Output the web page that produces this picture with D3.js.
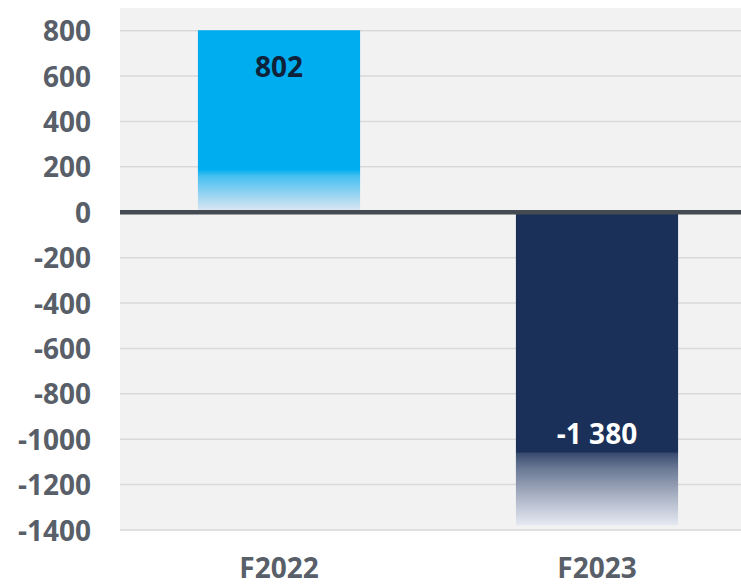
<!DOCTYPE html>
<html>
<head>
<meta charset="utf-8">
<script src="https://cdn.jsdelivr.net/npm/d3@7"></script>
<style>
  body { margin: 0; background: #fff; }
  text { font-family: "Open Sans", "DejaVu Sans", sans-serif; font-weight: 700; }
</style>
</head>
<body>
<svg id="chart" width="741" height="586"></svg>
<script>
// chart values
const categories = ["F2022", "F2023"];
const values = [802, -1380];
const yTicks = [800, 600, 400, 200, 0, -200, -400, -600, -800, -1000, -1200, -1400];
const barColors = ["#00adef", "#1b3059"];
const fadeColors = ["#e2e8f2", "#e6eaf2"];
const labelColors = ["#0e2239", "#ffffff"];

const svg = d3.select("#chart");
const plot = { left: 120, right: 756, top: 8, bottom: 531 };

const y = d3.scaleLinear()
    .domain([-1400, 900])
    .range([530, 8]);

const x = d3.scaleBand()
    .domain(categories)
    .range([plot.left, plot.right])
    .paddingInner(0.49)
    .paddingOuter(0.245);

// plot background
svg.append("rect")
    .attr("x", plot.left)
    .attr("y", plot.top)
    .attr("width", plot.right - plot.left)
    .attr("height", plot.bottom - plot.top)
    .attr("fill", "#f2f2f2");

// gridlines
svg.append("g")
    .selectAll("line")
    .data(yTicks.filter(d => d !== 0))
    .join("line")
    .attr("x1", plot.left)
    .attr("x2", plot.right)
    .attr("y1", d => y(d))
    .attr("y2", d => y(d))
    .attr("stroke", "#d9d9d9")
    .attr("stroke-width", 1.5);

// gradients: both bars fade out toward their bottom edge
const defs = svg.append("defs");
values.forEach((v, i) => {
    const g = defs.append("linearGradient")
        .attr("id", `fade-${i}`)
        .attr("x1", 0).attr("x2", 0)
        .attr("y1", 0).attr("y2", 1);
    const c = d3.interpolateRgb(barColors[i], fadeColors[i]);
    const stops = v >= 0
        ? [[0, 0], [0.765, 0], [0.8, 0.3], [0.87, 0.55], [0.94, 0.8], [1, 1]]
        : [[0, 0], [0.765, 0], [0.77, 0.15], [0.82, 0.4], [0.9, 0.68], [1, 1]];
    stops.forEach(([o, t]) => {
        g.append("stop")
            .attr("offset", o)
            .attr("stop-color", c(t));
    });
});

// bars
svg.append("g")
    .selectAll("rect")
    .data(values)
    .join("rect")
    .attr("x", (d, i) => x(categories[i]))
    .attr("width", x.bandwidth())
    .attr("y", d => y(Math.max(0, d)))
    .attr("height", d => Math.abs(y(d) - y(0)))
    .attr("fill", (d, i) => `url(#fade-${i})`);

// zero line
svg.append("line")
    .attr("x1", plot.left)
    .attr("x2", plot.right)
    .attr("y1", y(0))
    .attr("y2", y(0))
    .attr("stroke", "#454b52")
    .attr("stroke-width", 4.5);

// y axis labels (plain hyphen minus, no grouping)
const yAxis = d3.axisLeft(y)
    .tickValues(yTicks)
    .tickSize(0)
    .tickPadding(29)
    .tickFormat(d => String(d));

const yg = svg.append("g")
    .attr("transform", `translate(${plot.left},0)`)
    .call(yAxis);
yg.select(".domain").remove();
yg.selectAll("text")
    .attr("dy", "0.36em")
    .attr("font-size", 28)
    .attr("font-family", null)
    .attr("fill", "#595f69");

// x axis labels
const xAxis = d3.axisBottom(x).tickSize(0).tickPadding(0);
const xg = svg.append("g")
    .attr("transform", "translate(0,578)")
    .call(xAxis);
xg.select(".domain").remove();
xg.selectAll("text")
    .attr("dy", 0)
    .attr("font-size", 28)
    .attr("font-family", null)
    .attr("fill", "#595f69");

// value labels
const valueFmt = d3.formatLocale({
    decimal: ",", thousands: " ", grouping: [3], currency: ["", ""], minus: "-"
}).format(",d");

svg.append("g")
    .selectAll("text")
    .data(values)
    .join("text")
    .attr("x", (d, i) => x(categories[i]) + x.bandwidth() / 2)
    .attr("y", d => d >= 0 ? y(d) + 47 : y(d) - 81)
    .attr("text-anchor", "middle")
    .attr("font-size", 28)
    .attr("fill", (d, i) => labelColors[i])
    .text(d => valueFmt(d));
</script>
</body>
</html>
